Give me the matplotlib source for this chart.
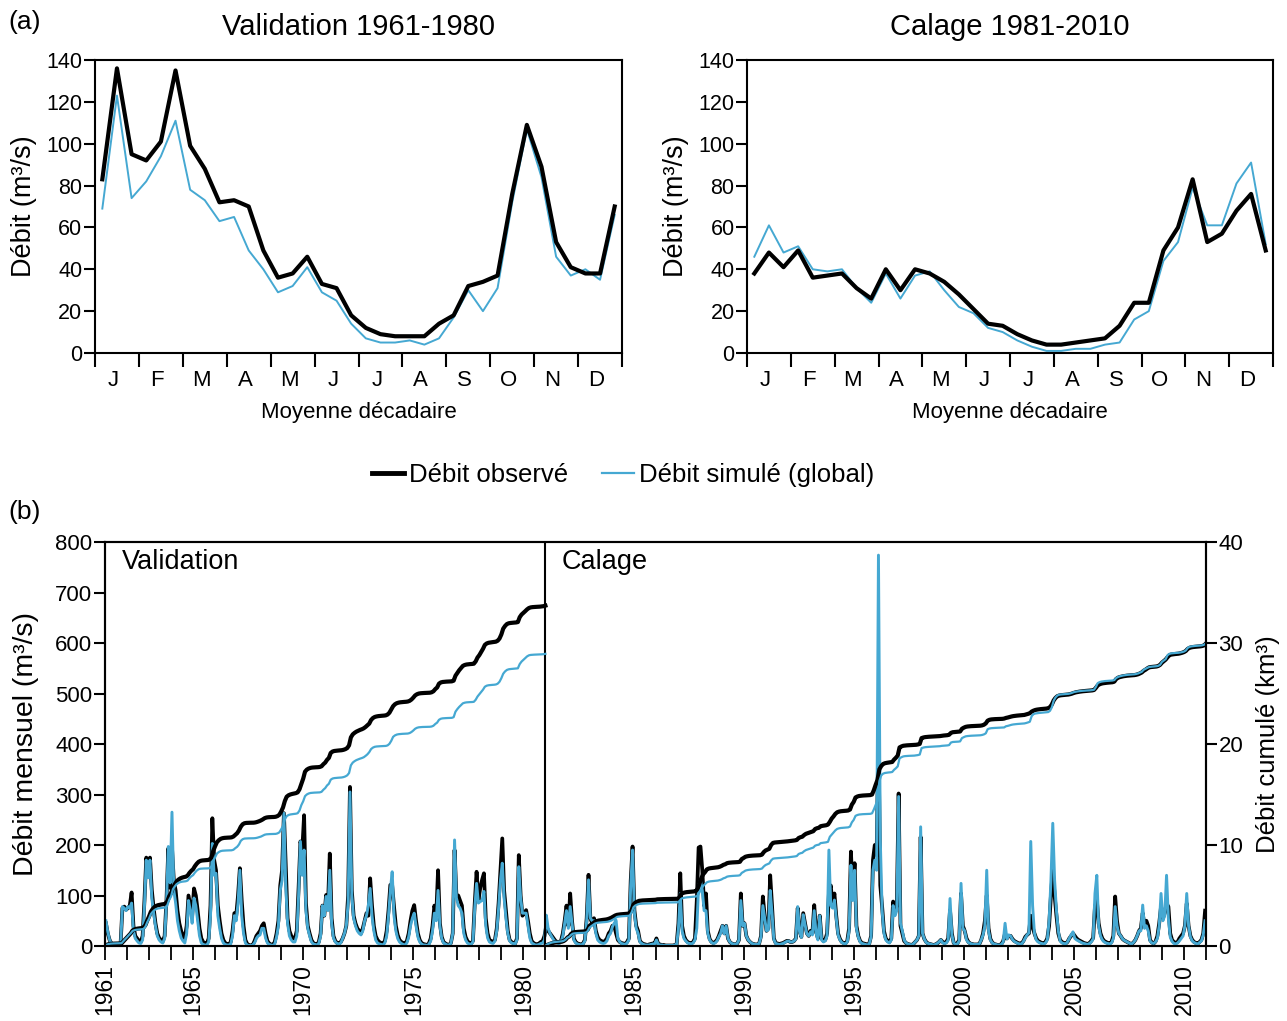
import numpy as np
import pandas as pd
import matplotlib
matplotlib.use("Agg")
import matplotlib.pyplot as plt
from matplotlib.lines import Line2D
from matplotlib.ticker import FixedLocator, FuncFormatter

plt.rcParams['font.family'] = ['Liberation Sans', 'DejaVu Sans']

BLUE = '#45a8d2'

month_labels = ['J', 'F', 'M', 'A', 'M', 'J', 'J', 'A', 'S', 'O', 'N', 'D']

# 10-day mean discharge (m3/s), 36 values per year
dec_obs_val = [83, 136, 95, 92, 101, 135, 99, 88, 72, 73, 70, 49, 36, 38, 46, 33, 31, 18,
               12, 9, 8, 8, 8, 14, 18, 32, 34, 37, 76, 109, 89, 53, 41, 38, 38, 70]
dec_sim_val = [69, 123, 74, 82, 94, 111, 78, 73, 63, 65, 49, 40, 29, 32, 41, 29, 25, 14,
               7, 5, 5, 6, 4, 7, 17, 30, 20, 31, 72, 107, 84, 46, 37, 40, 35, 66]
dec_obs_cal = [38, 48, 41, 49, 36, 37, 38, 31, 26, 40, 30, 40, 38, 34, 28, 21, 14, 13,
               9, 6, 4, 4, 5, 6, 7, 13, 24, 24, 49, 60, 83, 53, 57, 68, 76, 49]
dec_sim_cal = [46, 61, 48, 51, 40, 39, 40, 31, 24, 38, 26, 37, 39, 30, 22, 19, 12, 10,
               6, 3, 1, 1, 2, 2, 4, 5, 16, 20, 44, 53, 79, 61, 61, 81, 91, 52]

# monthly discharge (m3/s), one row per year, Jan..Dec
q_obs_val = [
    [45, 25, 12, 5, 3, 2, 1, 1, 5, 75, 78, 72],          # 1961
    [75, 80, 106, 40, 20, 15, 10, 8, 20, 90, 175, 150],
    [175, 111, 75, 45, 25, 16, 12, 9, 20, 90, 193, 115],
    [195, 130, 110, 70, 45, 30, 20, 15, 40, 100, 80, 60],
    [114, 100, 70, 35, 15, 8, 5, 5, 15, 80, 253, 170],   # 1965
    [150, 80, 50, 25, 12, 6, 4, 3, 8, 30, 65, 60],
    [100, 154, 90, 40, 12, 4, 2, 1, 2, 10, 20, 25],
    [30, 40, 45, 25, 10, 5, 3, 2, 8, 25, 50, 120],
    [150, 263, 160, 55, 30, 20, 15, 15, 30, 115, 207, 190],
    [259, 85, 40, 25, 12, 6, 4, 3, 8, 25, 80, 60],       # 1970
    [101, 80, 183, 55, 20, 10, 6, 5, 8, 15, 25, 40],
    [100, 315, 110, 60, 45, 35, 30, 25, 35, 50, 65, 60],
    [134, 80, 40, 20, 12, 8, 6, 5, 10, 30, 70, 121],
    [120, 78, 40, 22, 12, 8, 6, 5, 10, 25, 50, 70],
    [81, 50, 25, 12, 6, 4, 3, 2, 5, 15, 40, 80],         # 1975
    [60, 150, 45, 18, 8, 5, 3, 2, 6, 25, 190, 100],
    [100, 90, 80, 35, 18, 10, 6, 5, 10, 85, 147, 90],
    [115, 131, 144, 55, 25, 12, 10, 8, 12, 35, 85, 150],
    [213, 110, 71, 30, 12, 8, 6, 5, 15, 180, 100, 60],
    [65, 71, 50, 25, 10, 6, 4, 3, 5, 8, 10, 20],         # 1980
]
q_sim_val = [
    [50, 28, 12, 5, 3, 2, 1, 1, 4, 78, 75, 70],
    [78, 75, 85, 30, 15, 10, 6, 5, 12, 80, 170, 135],
    [170, 95, 65, 40, 20, 12, 8, 6, 15, 85, 197, 125],
    [265, 110, 85, 50, 30, 16, 10, 6, 25, 90, 70, 45],
    [95, 80, 50, 20, 6, 3, 2, 2, 8, 60, 203, 140],
    [144, 60, 35, 15, 6, 3, 2, 2, 4, 20, 60, 50],
    [85, 150, 60, 25, 6, 2, 1, 1, 2, 6, 15, 20],
    [22, 35, 35, 16, 6, 3, 2, 1, 4, 18, 40, 110],
    [130, 263, 120, 45, 20, 12, 8, 8, 20, 100, 207, 140],
    [190, 70, 35, 20, 8, 4, 3, 2, 5, 20, 80, 60],
    [98, 70, 150, 45, 16, 8, 5, 4, 6, 15, 25, 40],
    [85, 305, 100, 55, 40, 30, 25, 22, 30, 50, 60, 80],
    [114, 60, 30, 12, 6, 4, 3, 2, 6, 20, 60, 110],
    [147, 60, 30, 15, 8, 5, 3, 2, 6, 18, 40, 55],
    [65, 40, 18, 8, 4, 2, 2, 1, 3, 10, 30, 65],
    [50, 110, 40, 15, 6, 4, 2, 2, 5, 25, 210, 95],
    [80, 75, 65, 25, 12, 6, 4, 3, 8, 75, 124, 85],
    [88, 90, 108, 40, 16, 8, 6, 5, 10, 30, 75, 130],
    [164, 95, 55, 25, 10, 6, 5, 4, 12, 157, 95, 65],
    [65, 65, 40, 16, 6, 4, 2, 2, 3, 5, 6, 12],
]
q_obs_cal = [
    [40, 30, 25, 20, 15, 10, 8, 6, 10, 25, 50, 80],      # 1981
    [40, 104, 50, 15, 8, 5, 4, 3, 5, 12, 55, 141],
    [55, 45, 55, 30, 18, 12, 10, 8, 10, 15, 25, 30],
    [40, 40, 25, 12, 8, 6, 5, 4, 8, 15, 130, 197],
    [71, 40, 30, 10, 6, 4, 3, 2, 3, 4, 5, 5],            # 1985
    [15, 4, 3, 2, 2, 1, 1, 1, 1, 1, 2, 3],
    [45, 144, 40, 20, 12, 8, 6, 5, 8, 15, 90, 195],
    [197, 150, 80, 104, 30, 14, 8, 6, 8, 12, 20, 30],
    [40, 25, 40, 15, 8, 5, 4, 3, 5, 12, 104, 40],
    [45, 20, 12, 8, 5, 4, 3, 3, 5, 20, 98, 60],          # 1990
    [30, 35, 140, 80, 15, 6, 5, 4, 5, 6, 8, 10],
    [10, 8, 8, 10, 15, 75, 30, 18, 65, 45, 25, 20],
    [30, 25, 81, 30, 15, 60, 15, 10, 12, 25, 104, 120],
    [80, 104, 60, 25, 14, 8, 6, 5, 10, 35, 187, 100],
    [164, 40, 20, 10, 6, 5, 4, 3, 5, 20, 170, 200],      # 1995
    [180, 414, 120, 78, 30, 15, 10, 8, 15, 88, 70, 80],
    [302, 40, 25, 10, 6, 4, 3, 2, 4, 8, 12, 20],
    [216, 25, 14, 8, 5, 4, 3, 2, 3, 5, 8, 12],
    [8, 6, 8, 15, 71, 25, 6, 4, 5, 12, 104, 40],
    [30, 15, 8, 5, 4, 3, 3, 3, 4, 12, 25, 50],           # 2000
    [100, 35, 14, 7, 4, 3, 2, 2, 4, 10, 25, 15],
    [20, 20, 14, 10, 8, 6, 5, 5, 10, 18, 22, 25],
    [60, 38, 25, 15, 10, 8, 6, 5, 8, 15, 40, 100],
    [150, 100, 60, 25, 12, 8, 6, 5, 8, 15, 20, 25],
    [20, 15, 12, 10, 8, 6, 5, 4, 6, 10, 16, 78],         # 2005
    [91, 45, 25, 15, 10, 8, 6, 5, 8, 20, 98, 50],
    [25, 20, 14, 11, 9, 7, 5, 4, 7, 12, 20, 30],
    [35, 65, 40, 50, 40, 12, 7, 5, 9, 20, 45, 78],
    [55, 65, 84, 78, 25, 12, 8, 6, 8, 15, 20, 25],
    [40, 84, 40, 20, 12, 8, 6, 5, 8, 12, 25, 70],        # 2010
]
q_sim_cal = [
    [61, 35, 25, 18, 12, 8, 6, 5, 8, 20, 45, 70],
    [35, 78, 45, 12, 6, 4, 3, 2, 4, 10, 50, 131],
    [55, 50, 50, 25, 12, 8, 6, 5, 6, 10, 20, 25],
    [38, 45, 51, 15, 8, 5, 4, 3, 6, 12, 120, 190],
    [65, 35, 25, 8, 5, 3, 2, 2, 2, 3, 4, 4],
    [12, 3, 2, 2, 1, 1, 1, 1, 1, 1, 2, 2],
    [35, 104, 30, 15, 10, 6, 5, 4, 6, 12, 35, 120],
    [130, 110, 70, 70, 25, 12, 7, 5, 6, 10, 18, 25],
    [40, 24, 40, 15, 8, 5, 4, 3, 5, 12, 90, 40],
    [45, 20, 12, 8, 5, 4, 3, 3, 5, 18, 80, 55],
    [30, 32, 110, 65, 13, 5, 4, 3, 4, 5, 7, 9],
    [10, 8, 8, 10, 14, 78, 28, 17, 62, 42, 24, 20],
    [28, 22, 70, 25, 12, 60, 12, 8, 10, 20, 190, 80],
    [75, 91, 55, 22, 12, 7, 5, 4, 8, 30, 160, 90],
    [150, 35, 18, 8, 5, 4, 3, 2, 4, 18, 150, 170],
    [150, 774, 210, 70, 25, 12, 8, 6, 12, 80, 60, 70],
    [296, 45, 30, 12, 6, 4, 3, 2, 4, 8, 12, 20],
    [236, 25, 14, 7, 5, 4, 3, 2, 3, 5, 8, 12],
    [6, 5, 6, 12, 94, 22, 6, 3, 4, 10, 124, 35],
    [30, 12, 7, 5, 4, 3, 3, 3, 4, 12, 22, 40],
    [150, 30, 12, 6, 4, 3, 2, 2, 3, 8, 45, 14],
    [22, 20, 13, 9, 7, 5, 4, 4, 9, 16, 22, 26],
    [207, 80, 25, 12, 8, 6, 5, 4, 6, 12, 50, 130],
    [243, 130, 70, 30, 10, 6, 5, 4, 8, 15, 22, 28],
    [15, 12, 10, 8, 6, 5, 4, 3, 5, 8, 14, 104],
    [140, 40, 20, 12, 8, 6, 5, 4, 6, 15, 78, 40],
    [25, 20, 14, 11, 9, 7, 5, 4, 7, 12, 20, 30],
    [30, 81, 35, 40, 30, 10, 6, 5, 8, 15, 40, 104],
    [50, 60, 140, 55, 18, 9, 5, 4, 6, 10, 15, 20],
    [40, 104, 40, 18, 10, 7, 5, 4, 7, 10, 22, 50],
]

year_labels = [1961, 1965, 1970, 1975, 1980, 1985, 1990, 1995, 2000, 2005, 2010]


def cumulative_km3(q, first_year):
    # running volume from monthly mean discharge
    q = np.ravel(q).astype(float)
    dates = pd.date_range(f'{first_year}-01-01', periods=len(q), freq='MS')
    secs = dates.days_in_month.values * 86400.0
    x = first_year + np.arange(len(q) + 1) / 12.0
    return x, np.concatenate([[0.0], np.cumsum(q * secs) / 1e9])


W, H = 1287, 1021
fig = plt.figure(figsize=(W / 100, H / 100), dpi=100)


def rect(x0, y0, x1, y1):
    return [x0 / W, 1 - y1 / H, (x1 - x0) / W, (y1 - y0) / H]


def decade_panel(ax, obs, sim, title):
    x = np.arange(36) + 0.5
    ax.plot(x, sim, color=BLUE, lw=1.4, zorder=2)
    ax.plot(x, obs, color='k', lw=3.0, zorder=3)
    ax.set_xlim(0, 36)
    ax.set_ylim(0, 140)
    ax.set_yticks(range(0, 141, 20))
    ax.set_xticks(range(0, 37, 3))
    ax.set_xticklabels([])
    ax.set_xticks(np.arange(1.25, 36, 3), minor=True)
    ax.set_xticklabels(month_labels, minor=True, fontsize=16)
    ax.tick_params(axis='x', which='major', direction='out', length=10, width=1.5)
    ax.tick_params(axis='x', which='minor', length=0, pad=12)
    ax.tick_params(axis='y', direction='out', length=8, width=1.5, pad=1, labelsize=15.5)
    for s in ax.spines.values():
        s.set_linewidth(1.5)
    ax.set_ylabel('Débit (m³/s)', fontsize=19.5, labelpad=7)
    ax.set_xlabel('Moyenne décadaire', fontsize=16, labelpad=8)
    ax.set_title(title, fontsize=21, pad=18)


ax1 = fig.add_axes(rect(95, 60, 622, 353))
decade_panel(ax1, dec_obs_val, dec_sim_val, 'Validation 1961-1980')
ax2 = fig.add_axes(rect(747, 60, 1273, 353))
decade_panel(ax2, dec_obs_cal, dec_sim_cal, 'Calage 1981-2010')

fig.text(8 / W, 1 - 22 / H, '(a)', fontsize=19, va='center', ha='left')
fig.text(8 / W, 1 - 512 / H, '(b)', fontsize=19, va='center', ha='left')

handles = [Line2D([], [], color='k', lw=3.5), Line2D([], [], color=BLUE, lw=1.6)]
fig.legend(handles, ['Débit observé', 'Débit simulé (global)'], loc='center',
           bbox_to_anchor=(623 / W, 1 - 475 / H), ncol=2, frameon=False,
           handlelength=1.25, handletextpad=0.2, columnspacing=1.3, fontsize=18.5)

# monthly series and running volumes
ax3 = fig.add_axes(rect(105, 542, 1206, 946))
q_obs = np.concatenate([np.ravel(q_obs_val), np.ravel(q_obs_cal)])
q_sim = np.concatenate([np.ravel(q_sim_val), np.ravel(q_sim_cal)])
xm = 1961 + (np.arange(len(q_obs)) + 0.5) / 12.0
ax3.plot(xm, q_obs, color='k', lw=2.7, zorder=2)
ax3.plot(xm, q_sim, color=BLUE, lw=2.1, zorder=3)
ax3.axvline(1981, color='k', lw=1.5, zorder=4)
ax3.set_xlim(1961, 2011)
ax3.set_ylim(0, 800)
ax3.set_yticks(range(0, 801, 100))
ax3.xaxis.set_major_locator(FixedLocator(range(1961, 2012)))
ax3.xaxis.set_major_formatter(FuncFormatter(lambda v, p: str(int(v)) if int(round(v)) in year_labels else ''))
ax3.tick_params(axis='x', direction='out', length=10, width=1.3, labelrotation=90, labelsize=16.5, pad=3)
ax3.tick_params(axis='y', direction='out', length=8, width=1.5, pad=1, labelsize=16)
ax3.set_ylabel('Débit mensuel (m³/s)', fontsize=20.5, labelpad=12)
for s in ax3.spines.values():
    s.set_linewidth(1.5)

ax4 = ax3.twinx()
xv, cv_obs = cumulative_km3(q_obs_val, 1961)
_, cv_sim = cumulative_km3(q_sim_val, 1961)
xc, cc_obs = cumulative_km3(q_obs_cal, 1981)
_, cc_sim = cumulative_km3(q_sim_cal, 1981)
ax4.plot(xv, cv_obs, color='k', lw=3.0)
ax4.plot(xc, cc_obs, color='k', lw=3.0)
ax4.plot(xv, cv_sim, color=BLUE, lw=1.6)
ax4.plot(xc, cc_sim, color=BLUE, lw=1.6)
ax4.set_ylim(0, 40)
ax4.set_yticks(range(0, 41, 10))
ax4.tick_params(axis='y', direction='out', length=8, width=1.5, pad=1, labelsize=16)
ax4.set_ylabel('Débit cumulé (km³)', fontsize=18.5, labelpad=9)
for s in ax4.spines.values():
    s.set_linewidth(1.5)

ax3.text(0.015, 0.95, 'Validation', transform=ax3.transAxes, fontsize=19.5, va='center', ha='left')
ax3.text(0.415, 0.95, 'Calage', transform=ax3.transAxes, fontsize=19.5, va='center', ha='left')

fig.savefig('out.png', dpi=100)
